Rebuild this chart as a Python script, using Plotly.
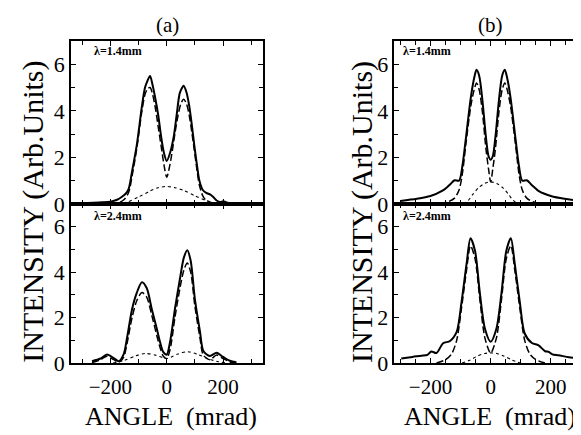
import plotly.graph_objects as go

# ---------------- data: panel (a) top, lambda = 1.4 mm ----------------
a1_solid_x = [-300, -260, -230, -200, -176, -160, -145, -135, -123, -106, -88, -77, -68, -59, -50, -40,
              -30, -20, -10, 0, 12, 25, 35, 46, 55, 60, 70, 80, 90, 98, 108, 116, 128, 140, 155, 165,
              177, 190, 200, 210, 225, 245]
a1_solid_y = [0.03, 0.05, 0.07, 0.1, 0.18, 0.3, 0.45, 0.65, 1.4, 2.55, 4.2, 5.0, 5.3, 5.5, 5.1, 4.5,
              3.8, 2.9, 2.2, 1.85, 2.2, 2.9, 3.8, 4.75, 5.0, 5.08, 4.8, 4.2, 3.3, 2.5, 1.6, 1.0, 0.6,
              0.48, 0.4, 0.3, 0.15, 0.08, 0.12, 0.08, 0.03, 0.02]
a1_dash_x = [-200, -170, -150, -135, -123, -106, -88, -77, -68, -59, -50, -40, -30, -20, -10, 0, 10, 20,
             30, 40, 50, 60, 70, 80, 90, 98, 108, 116, 128, 140, 160, 190]
a1_dash_y = [0.0, 0.05, 0.2, 0.5, 1.2, 2.4, 4.0, 4.7, 4.95, 5.0, 4.7, 4.1, 3.3, 2.5, 1.7, 1.15, 1.6, 2.3,
             3.1, 3.8, 4.3, 4.5, 4.3, 3.8, 3.0, 2.3, 1.4, 0.8, 0.35, 0.15, 0.05, 0.0]
a1_dot_x = [-175, -140, -100, -60, -30, 0, 30, 60, 100, 140, 170, 200]
a1_dot_y = [0.0, 0.08, 0.3, 0.55, 0.7, 0.75, 0.7, 0.58, 0.35, 0.15, 0.05, 0.0]

# ---------------- data: panel (a) bottom, lambda = 2.4 mm ----------------
a2_solid_x = [-265, -235, -212, -188, -170, -153, -141, -123, -106, -88, -71, -53, -35, -24, -12, 0, 12,
              29, 47, 61, 73, 85, 100, 118, 130, 153, 177, 200, 224, 247]
a2_solid_y = [0.08, 0.2, 0.38, 0.22, 0.08, 0.38, 1.09, 2.37, 3.1, 3.56, 3.3, 2.37, 1.5, 0.94, 0.48, 0.37,
              0.94, 2.37, 3.72, 4.65, 4.96, 4.5, 2.8, 1.38, 0.53, 0.31, 0.45, 0.27, 0.1, 0.04]
a2_dash_x = [-265, -235, -212, -188, -170, -153, -141, -123, -106, -88, -71, -53, -35, -24, -12, 0, 12,
             29, 47, 61, 73, 85, 100, 118, 130, 153, 177, 200, 224, 247]
a2_dash_y = [0.02, 0.15, 0.3, 0.15, 0.04, 0.25, 0.85, 2.0, 2.75, 3.1, 2.9, 2.1, 1.2, 0.7, 0.3, 0.2, 0.6,
             2.0, 3.3, 4.1, 4.4, 4.0, 2.5, 1.1, 0.35, 0.15, 0.35, 0.2, 0.05, 0.0]
a2_dot_x = [-190, -150, -110, -75, -40, -15, 0, 15, 40, 75, 110, 150, 180, 210]
a2_dot_y = [0.0, 0.12, 0.32, 0.42, 0.35, 0.24, 0.2, 0.26, 0.4, 0.5, 0.38, 0.18, 0.07, 0.0]

# ---------------- data: panel (b) top, lambda = 1.4 mm ----------------
b1_solid_x = [-300, -245, -200, -160, -145, -133, -120, -105, -94, -83, -66, -55, -47, -38, -27, -16, -7,
              0, 7, 16, 27, 38, 47, 55, 66, 83, 94, 105, 120, 133, 145, 160, 200, 245, 300]
b1_solid_y = [0.13, 0.22, 0.34, 0.57, 0.72, 0.86, 1.02, 1.0, 1.63, 2.75, 4.57, 5.4, 5.76, 5.5, 4.4, 2.9,
              2.05, 1.9, 2.05, 2.9, 4.4, 5.5, 5.76, 5.4, 4.57, 2.75, 1.63, 1.0, 1.02, 0.86, 0.72, 0.55,
              0.34, 0.22, 0.14]
b1_dash_x = [-170, -140, -120, -105, -94, -83, -66, -55, -47, -38, -27, -16, -7, 0, 7, 16, 27, 38, 47,
             55, 66, 83, 94, 105, 120, 140, 170]
b1_dash_y = [0.0, 0.1, 0.25, 0.6, 1.3, 2.5, 4.2, 4.9, 5.2, 4.9, 3.9, 2.4, 1.5, 0.95, 1.5, 2.4, 3.9, 4.9,
             5.2, 4.9, 4.2, 2.5, 1.3, 0.6, 0.25, 0.1, 0.0]
b1_dot_x = [-90, -75, -60, -40, -20, 0, 20, 40, 60, 75, 92]
b1_dot_y = [0.0, 0.15, 0.4, 0.7, 0.88, 0.95, 0.88, 0.7, 0.4, 0.15, 0.0]

# ---------------- data: panel (b) bottom, lambda = 2.4 mm ----------------
b2_solid_x = [-297, -260, -230, -210, -197, -180, -158, -135, -113, -97, -80, -67, -52, -36, -19, 0, 19,
              36, 52, 67, 80, 97, 113, 137, 159, 181, 192, 205, 225, 260, 292]
b2_solid_y = [0.2, 0.27, 0.32, 0.36, 0.51, 0.44, 0.87, 0.97, 1.37, 2.66, 4.37, 5.49, 4.94, 3.09, 1.51,
              0.94, 1.51, 3.09, 4.94, 5.49, 4.37, 2.66, 1.3, 0.88, 0.78, 0.52, 0.5, 0.38, 0.34, 0.26, 0.2]
b2_dash_x = [-180, -150, -130, -113, -97, -80, -67, -52, -36, -19, 0, 19, 36, 52, 67, 80, 97, 113, 130,
             150, 180]
b2_dash_y = [0.0, 0.15, 0.4, 1.0, 2.4, 4.1, 5.16, 4.6, 2.8, 1.1, 0.44, 1.1, 2.8, 4.6, 5.16, 4.1, 2.4, 1.0,
             0.4, 0.15, 0.0]
b2_dot_x = [-95, -70, -45, -20, 0, 20, 45, 70, 98]
b2_dot_y = [0.0, 0.12, 0.3, 0.42, 0.45, 0.42, 0.3, 0.14, 0.0]

panel_labels = ["λ=1.4mm", "λ=2.4mm"]
column_titles = ["(a)", "(b)"]
y_title = "INTENSITY (Arb.Units)"
x_title = "ANGLE\u00a0\u00a0(mrad)"

W, H = 581, 435
SERIF = "Liberation Serif"

fig = go.Figure()

panels = [
    ("x", "y", (a1_solid_x, a1_solid_y), (a1_dash_x, a1_dash_y), (a1_dot_x, a1_dot_y)),
    ("x2", "y2", (a2_solid_x, a2_solid_y), (a2_dash_x, a2_dash_y), (a2_dot_x, a2_dot_y)),
    ("x3", "y3", (b1_solid_x, b1_solid_y), (b1_dash_x, b1_dash_y), (b1_dot_x, b1_dot_y)),
    ("x4", "y4", (b2_solid_x, b2_solid_y), (b2_dash_x, b2_dash_y), (b2_dot_x, b2_dot_y)),
]
for xa, ya, s, d, o in panels:
    fig.add_trace(go.Scatter(x=o[0], y=o[1], xaxis=xa, yaxis=ya, mode="lines",
                             line=dict(color="black", width=1.1, dash="dot", shape="spline", smoothing=0.8),
                             showlegend=False, hoverinfo="skip"))
    fig.add_trace(go.Scatter(x=s[0], y=s[1], xaxis=xa, yaxis=ya, mode="lines",
                             line=dict(color="black", width=2, shape="spline", smoothing=0.8),
                             showlegend=False, hoverinfo="skip"))
    fig.add_trace(go.Scatter(x=d[0], y=d[1], xaxis=xa, yaxis=ya, mode="lines",
                             line=dict(color="black", width=1.5, dash="7px,3px", shape="spline", smoothing=0.8),
                             showlegend=False, hoverinfo="skip"))

def px_x(a, b):
    return [a / W, b / W]

def px_y(top, bottom):
    return [1 - bottom / H, 1 - top / H]

xdom_a = px_x(63, 255)
xdom_b = px_x(387, 580)
ydom_top = px_y(34, 202)
ydom_bot = px_y(202, 366)

def xaxis(dom, anchor, rng, minor_dt, labels):
    return dict(domain=dom, anchor=anchor, range=rng, showline=True, linecolor="black", linewidth=1.5,
                mirror="allticks", ticks="inside", ticklen=5, tickwidth=1.2, tickcolor="black",
                tick0=0, dtick=200, showticklabels=labels, showgrid=False, zeroline=False,
                tickfont=dict(family=SERIF, size=21, color="black"), ticklabelstandoff=4,
                minor=dict(ticks="inside", dtick=minor_dt, tick0=0, ticklen=4, tickcolor="black",
                           tickwidth=1, showgrid=False))

def yaxis(dom, anchor):
    return dict(domain=dom, anchor=anchor, range=[0, 7], showline=True, linecolor="black", linewidth=1.5,
                mirror="allticks", ticks="inside", ticklen=5, tickwidth=1.2, tickcolor="black",
                tickvals=[0, 2, 4, 6], showgrid=False, zeroline=False,
                tickfont=dict(family=SERIF, size=22, color="black"),
                minor=dict(ticks="inside", dtick=1, ticklen=4, tickcolor="black", tickwidth=1,
                           showgrid=False))

fig.update_layout(
    width=W, height=H, margin=dict(l=0, r=0, t=0, b=0),
    font=dict(family=SERIF, color="black"),
    paper_bgcolor="white", plot_bgcolor="white", showlegend=False,
    xaxis=xaxis(xdom_a, "y", [-340, 340], 100, False),
    yaxis=yaxis(ydom_top, "x"),
    xaxis2=xaxis(xdom_a, "y2", [-340, 340], 100, True),
    yaxis2=yaxis(ydom_bot, "x2"),
    xaxis3=xaxis(xdom_b, "y3", [-320, 320], 50, False),
    yaxis3=yaxis(ydom_top, "x3"),
    xaxis4=xaxis(xdom_b, "y4", [-320, 320], 50, True),
    yaxis4=yaxis(ydom_bot, "x4"),
)

ann = []
# column titles
for txt, cx in zip(column_titles, [160, 483]):
    ann.append(dict(text=txt, x=cx / W, y=1 - 18 / H, xref="paper", yref="paper", showarrow=False,
                    xanchor="center", yanchor="middle", font=dict(family=SERIF, size=21, color="black")))
# wavelength labels
for lx in [84, 394]:
    for txt, ly in zip(panel_labels, [44, 214]):
        ann.append(dict(text="<b>" + txt + "</b>", x=lx / W, y=1 - ly / H, xref="paper", yref="paper",
                        showarrow=False, xanchor="left", yanchor="middle",
                        font=dict(family=SERIF, size=12, color="black")))
# y titles
for tx in [25, 354]:
    ann.append(dict(text=y_title, x=tx / W, y=1 - 210 / H, xref="paper", yref="paper", showarrow=False,
                    textangle=-90, xanchor="center", yanchor="middle",
                    font=dict(family=SERIF, size=30, color="black")))
# x titles
for tx in [163, 483]:
    ann.append(dict(text=x_title, x=tx / W, y=1 - 421 / H, xref="paper", yref="paper", showarrow=False,
                    xanchor="center", yanchor="middle", font=dict(family=SERIF, size=26, color="black")))
fig.update_layout(annotations=ann)

fig.write_html("out.html")
